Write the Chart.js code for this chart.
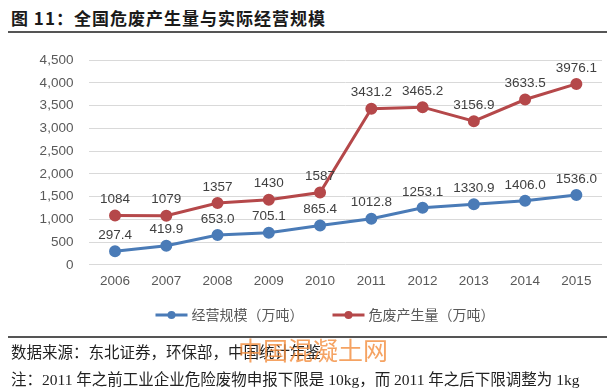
<!DOCTYPE html>
<html>
<head>
<meta charset="utf-8">
<script src="https://cdn.jsdelivr.net/npm/chart.js@4.4.1/dist/chart.umd.min.js"></script>
<style>
  html, body { margin: 0; padding: 0; background: #fff; }
  #wrap { position: relative; width: 615px; height: 392px; overflow: hidden; font-family: "Noto Sans CJK SC", sans-serif; }
  #title { position: absolute; left: 11px; top: 7px; line-height: 22px; font-size: 17px; font-weight: bold; color: #1a1a1a; letter-spacing: 1px; white-space: nowrap; }
  .rule { position: absolute; left: 8px; width: 599px; height: 2px; background: #555; }
  #chartBox { position: absolute; left: 0; top: 36px; width: 615px; height: 296px; }
  .note { position: absolute; left: 11px; line-height: 20px; font-family: "Liberation Serif", "Noto Sans CJK SC", serif; font-size: 15.5px; color: #222; white-space: nowrap; }
  #mark { position: absolute; left: 238px; top: 334px; line-height: 30px; font-size: 25px; color: rgba(242, 140, 60, 0.8); white-space: nowrap; }
</style>
</head>
<body>
<div id="wrap">
  <div id="title">图 11：全国危废产生量与实际经营规模</div>
  <div class="rule" style="top:31px"></div>
  <div id="chartBox"><canvas id="wasteChart" width="615" height="296"></canvas></div>
  <div class="rule" style="top:336px"></div>
  <div class="note" style="top:343px">数据来源：东北证券，环保部，中国统计年鉴</div>
  <div class="note" style="top:370px">注：2011 年之前工业企业危险废物申报下限是 10kg，而 2011 年之后下限调整为 1kg</div>
  <div id="mark">中国混凝土网</div>
</div>
<script>
const years = ['2006', '2007', '2008', '2009', '2010', '2011', '2012', '2013', '2014', '2015'];
const capacity = [297.4, 419.9, 653.0, 705.1, 865.4, 1012.8, 1253.1, 1330.9, 1406.0, 1536.0];   // 经营规模
const generated = [1084, 1079, 1357, 1430, 1587, 3431.2, 3465.2, 3156.9, 3633.5, 3976.1];      // 危废产生量
const yTicks = [0, 500, 1000, 1500, 2000, 2500, 3000, 3500, 4000, 4500];

const BLUE = '#4a7bb7';
const RED = '#b5484a';

Chart.defaults.font.family = '"Liberation Sans", sans-serif';

// values above each point
const pointValues = {
  id: 'pointValues',
  afterDatasetsDraw(chart) {
    const {ctx} = chart;
    ctx.save();
    ctx.font = '13.5px "Liberation Sans", sans-serif';
    ctx.fillStyle = '#404040';
    ctx.textAlign = 'center';
    ctx.textBaseline = 'middle';
    chart.data.datasets.forEach((ds, i) => {
      chart.getDatasetMeta(i).data.forEach((pt, j) => {
        const v = ds.data[j];
        const txt = ds.decimals ? v.toFixed(ds.decimals) : String(v);
        ctx.fillText(txt, pt.x, pt.y - 16);
      });
    });
    ctx.restore();
  }
};

// line + dot legend under the axis
const lineLegend = {
  id: 'lineLegend',
  afterDraw(chart) {
    const {ctx} = chart;
    const lineW = 32, gap = 4, itemGap = 29, cy = 279;
    ctx.save();
    ctx.font = '14px "Noto Sans CJK SC", sans-serif';
    const widths = chart.data.datasets.map(ds => ctx.measureText(ds.label).width);
    let total = itemGap * (widths.length - 1);
    widths.forEach(w => total += lineW + gap + w);
    let x = 325 - total / 2;
    chart.data.datasets.forEach((ds, i) => {
      ctx.strokeStyle = ds.borderColor;
      ctx.lineWidth = 3;
      ctx.beginPath();
      ctx.moveTo(x, cy);
      ctx.lineTo(x + lineW, cy);
      ctx.stroke();
      ctx.fillStyle = ds.borderColor;
      ctx.beginPath();
      ctx.arc(x + lineW / 2, cy, 4, 0, Math.PI * 2);
      ctx.fill();
      ctx.fillStyle = '#595959';
      ctx.textBaseline = 'middle';
      ctx.textAlign = 'left';
      ctx.fillText(ds.label, x + lineW + gap, cy);
      x += lineW + gap + widths[i] + itemGap;
    });
    ctx.restore();
  }
};

new Chart(document.getElementById('wasteChart'), {
  type: 'line',
  data: {
    labels: years,
    datasets: [
      {
        label: '经营规模（万吨）',
        data: capacity,
        decimals: 1,
        borderColor: BLUE,
        backgroundColor: BLUE,
        pointBackgroundColor: BLUE,
        pointBorderColor: BLUE,
        pointRadius: 4.5,
        borderWidth: 3,
        tension: 0
      },
      {
        label: '危废产生量（万吨）',
        data: generated,
        decimals: 0,
        borderColor: RED,
        backgroundColor: RED,
        pointBackgroundColor: RED,
        pointBorderColor: RED,
        pointRadius: 4.5,
        borderWidth: 3,
        tension: 0
      }
    ]
  },
  options: {
    responsive: false,
    animation: false,
    devicePixelRatio: 1,
    layout: {
      padding: {top: 10.7, left: 0, right: 13, bottom: 35}
    },
    plugins: {
      legend: {display: false},
      tooltip: {enabled: false},
      title: {display: false}
    },
    scales: {
      x: {
        offset: true,
        grid: {display: false, drawTicks: false},
        border: {display: false},
        ticks: {
          padding: 8,
          color: '#595959',
          font: {size: 13.5},
          maxRotation: 0
        }
      },
      y: {
        min: 0,
        max: 4500,
        afterBuildTicks(scale) {
          scale.ticks = yTicks.map(v => ({value: v}));
        },
        afterFit(scale) {
          scale.width = 89.4;
        },
        grid: {color: '#d9d9d9', lineWidth: 1, drawTicks: false},
        border: {display: false},
        ticks: {
          padding: 16,
          color: '#595959',
          font: {size: 13.5},
          callback: v => v.toLocaleString('en-US')
        }
      }
    }
  },
  plugins: [pointValues, lineLegend]
});
</script>
</body>
</html>
